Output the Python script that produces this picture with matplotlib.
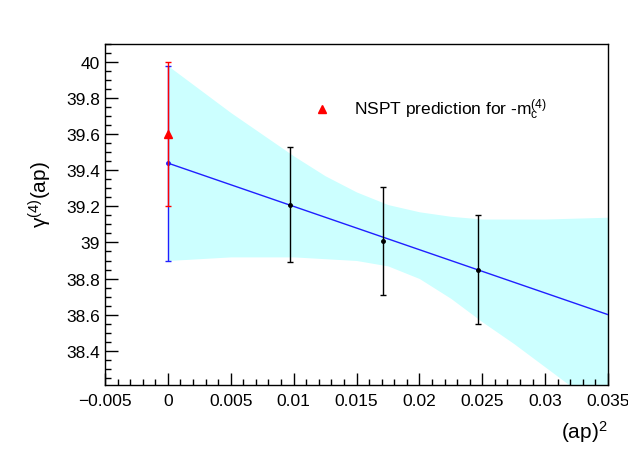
import matplotlib
matplotlib.use("Agg")
import matplotlib.pyplot as plt
from matplotlib.ticker import MultipleLocator, FuncFormatter
import numpy as np

plt.rcParams['font.family'] = ['Liberation Sans', 'DejaVu Sans']
plt.rcParams['mathtext.fontset'] = 'custom'
plt.rcParams['mathtext.rm'] = 'Liberation Sans'
plt.rcParams['mathtext.it'] = 'Liberation Sans'

# data points
x_pts = [0.0097, 0.0171, 0.0247]
y_pts = [39.21, 39.01, 38.85]
y_err = [0.32, 0.30, 0.30]

# extrapolated value at 0
x0 = [0.0]
y0 = [39.44]
y0_lo = [0.54]
y0_hi = [0.54]

# NSPT prediction
x_nspt = [0.0]
y_nspt = [39.6]
y_nspt_err = [0.4]

# fit line
fit_x = [0.0, 0.035]
fit_y = [39.44, 38.60]

# confidence band
band_x = [0.0, 0.0025, 0.005, 0.0075, 0.01, 0.0125, 0.015, 0.0175, 0.02,
          0.0225, 0.025, 0.0275, 0.03, 0.0325, 0.035]
band_hi = [39.98, 39.85, 39.72, 39.60, 39.48, 39.37, 39.28, 39.21, 39.17,
           39.145, 39.13, 39.13, 39.13, 39.135, 39.14]
band_lo = [38.90, 38.91, 38.92, 38.92, 38.92, 38.91, 38.90, 38.87, 38.80,
           38.69, 38.56, 38.44, 38.31, 38.18, 38.05]

fig = plt.figure(figsize=(6.28, 4.60), dpi=100)
ax = fig.add_axes([105/628, 1-386/460, (608-105)/628, (386-45)/460])

ax.fill_between(band_x, band_lo, band_hi, color='#ccffff', lw=0, zorder=1)
ax.plot(fit_x, fit_y, color='#1f1fff', lw=1.0, zorder=3)

ax.errorbar(x0, y0, yerr=[y0_lo, y0_hi], fmt='o', ms=2.5, color='#1f1fff',
            ecolor='#1f1fff', elinewidth=1.0, capsize=2.5, capthick=1.0, zorder=4)
ax.errorbar(x_nspt, y_nspt, yerr=y_nspt_err, fmt='^', ms=6, color='red',
            ecolor='red', elinewidth=1.0, capsize=2.5, capthick=1.0, zorder=5)
ax.errorbar(x_pts, y_pts, yerr=y_err, fmt='o', ms=2.5, color='black',
            ecolor='black', elinewidth=1.0, capsize=2.5, capthick=1.0, zorder=6)

ax.set_xlim(-0.005, 0.035)
ax.set_ylim(38.21, 40.1)

ax.xaxis.set_major_locator(MultipleLocator(0.005))
ax.xaxis.set_minor_locator(MultipleLocator(0.001))
ax.yaxis.set_major_locator(MultipleLocator(0.2))
ax.yaxis.set_minor_locator(MultipleLocator(0.05))

def fmt(v, pos):
    s = '%g' % round(v, 6)
    if s == '-0':
        s = '0'
    return s.replace('-', '\u2212')

ax.xaxis.set_major_formatter(FuncFormatter(fmt))
ax.yaxis.set_major_formatter(FuncFormatter(fmt))
ax.tick_params(which='both', direction='in', top=False, right=False, labelsize=12.5, width=1.0)
ax.tick_params(which='major', length=9)
ax.tick_params(which='minor', length=4.5)
ax.tick_params(axis='x', pad=6)
for s in ax.spines.values():
    s.set_linewidth(1.0)

# legend
ax.plot([0.01222], [39.74], marker='^', ms=6, color='red', ls='none', zorder=7)
ax.text(0.01484, 39.74, 'NSPT prediction for -m$_\\mathregular{c}^\\mathregular{(4)}$',
        fontsize=12.5, va='center', ha='left')

fig.text(608/628, 1-432/460, '(ap)$^\\mathregular{2}$', fontsize=15, ha='right', va='center')
fig.text(40/628, 1-195/460, '\u03b3$^\\mathregular{(4)}$(ap)', fontsize=15, rotation=90,
         ha='center', va='center')

fig.savefig('out.png', dpi=100)
